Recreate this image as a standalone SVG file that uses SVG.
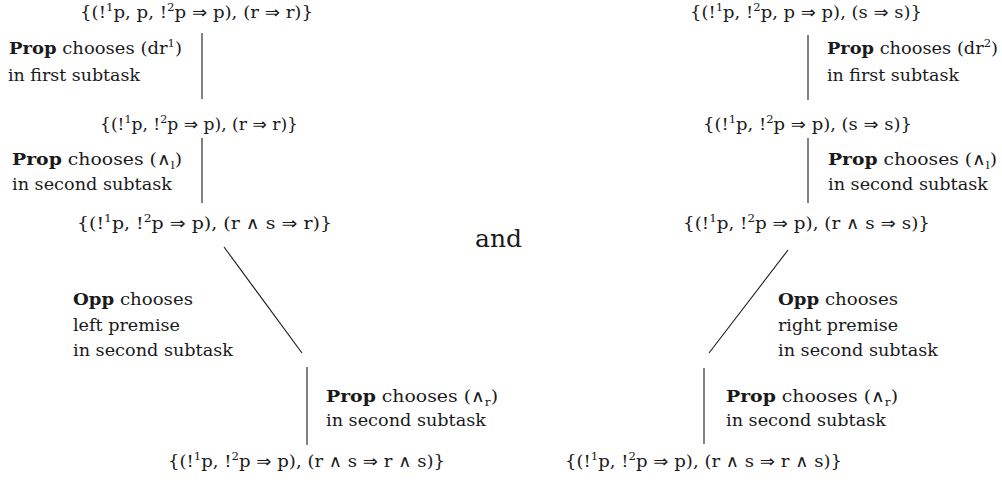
<svg xmlns="http://www.w3.org/2000/svg" width="1002" height="482" viewBox="0 0 1002 482">
<style>
text{font-family:"DejaVu Serif","Liberation Serif",serif;font-size:17px;fill:#1a1a1a}
.b{font-weight:bold}
.sup{font-size:11px}
.o{font-family:"DejaVu Sans",sans-serif;font-size:17px}
.and{font-size:24px}
.c line{stroke:#1a1a1a;stroke-width:1.1}
</style>
<rect width="1002" height="482" fill="#fff"/>
<g class="c" id="connectors">
<line x1="202" y1="33" x2="202" y2="99"/>
<line x1="202" y1="138" x2="202" y2="203"/>
<line x1="224" y1="247" x2="302" y2="353"/>
<line x1="307" y1="367" x2="307" y2="445"/>
<line x1="808" y1="35" x2="808" y2="100"/>
<line x1="808" y1="138" x2="808" y2="203"/>
<line x1="788" y1="250" x2="709" y2="353"/>
<line x1="704" y1="368" x2="704" y2="444"/>
</g>
<g id="L1"><text x="80" y="18" textLength="233" lengthAdjust="spacingAndGlyphs">{(!<tspan class="sup" dy="-7">1</tspan><tspan dy="7">p, p, !</tspan><tspan class="sup" dy="-7">2</tspan><tspan dy="7">p </tspan><tspan class="o">⇒</tspan> p), (r <tspan class="o">⇒</tspan> r)}</text></g>
<g id="L2"><text x="100" y="130" textLength="198" lengthAdjust="spacingAndGlyphs">{(!<tspan class="sup" dy="-7">1</tspan><tspan dy="7">p, !</tspan><tspan class="sup" dy="-7">2</tspan><tspan dy="7">p </tspan><tspan class="o">⇒</tspan> p), (r <tspan class="o">⇒</tspan> r)}</text></g>
<g id="L3"><text x="77" y="229" textLength="255" lengthAdjust="spacingAndGlyphs">{(!<tspan class="sup" dy="-7">1</tspan><tspan dy="7">p, !</tspan><tspan class="sup" dy="-7">2</tspan><tspan dy="7">p </tspan><tspan class="o">⇒</tspan> p), (r <tspan class="o">∧</tspan> s <tspan class="o">⇒</tspan> r)}</text></g>
<g id="L4"><text x="168" y="467" textLength="277" lengthAdjust="spacingAndGlyphs">{(!<tspan class="sup" dy="-7">1</tspan><tspan dy="7">p, !</tspan><tspan class="sup" dy="-7">2</tspan><tspan dy="7">p </tspan><tspan class="o">⇒</tspan> p), (r <tspan class="o">∧</tspan> s <tspan class="o">⇒</tspan> r <tspan class="o">∧</tspan> s)}</text></g>
<g id="R1"><text x="690" y="18" textLength="232" lengthAdjust="spacingAndGlyphs">{(!<tspan class="sup" dy="-7">1</tspan><tspan dy="7">p, !</tspan><tspan class="sup" dy="-7">2</tspan><tspan dy="7">p, p </tspan><tspan class="o">⇒</tspan> p), (s <tspan class="o">⇒</tspan> s)}</text></g>
<g id="R2"><text x="703" y="130" textLength="209" lengthAdjust="spacingAndGlyphs">{(!<tspan class="sup" dy="-7">1</tspan><tspan dy="7">p, !</tspan><tspan class="sup" dy="-7">2</tspan><tspan dy="7">p </tspan><tspan class="o">⇒</tspan> p), (s <tspan class="o">⇒</tspan> s)}</text></g>
<g id="R3"><text x="683" y="229" textLength="247" lengthAdjust="spacingAndGlyphs">{(!<tspan class="sup" dy="-7">1</tspan><tspan dy="7">p, !</tspan><tspan class="sup" dy="-7">2</tspan><tspan dy="7">p </tspan><tspan class="o">⇒</tspan> p), (r <tspan class="o">∧</tspan> s <tspan class="o">⇒</tspan> s)}</text></g>
<g id="R4"><text x="565" y="467" textLength="277" lengthAdjust="spacingAndGlyphs">{(!<tspan class="sup" dy="-7">1</tspan><tspan dy="7">p, !</tspan><tspan class="sup" dy="-7">2</tspan><tspan dy="7">p </tspan><tspan class="o">⇒</tspan> p), (r <tspan class="o">∧</tspan> s <tspan class="o">⇒</tspan> r <tspan class="o">∧</tspan> s)}</text></g>
<g id="labels-left">
<text x="9" y="54" textLength="173" lengthAdjust="spacingAndGlyphs"><tspan class="b">Prop</tspan> chooses (dr<tspan class="sup" dy="-7">1</tspan><tspan dy="7">)</tspan></text>
<text x="8" y="81" textLength="132" lengthAdjust="spacingAndGlyphs">in first subtask</text>
<text x="12" y="165" textLength="170" lengthAdjust="spacingAndGlyphs"><tspan class="b">Prop</tspan> chooses (<tspan class="o">∧</tspan><tspan class="sup" dy="4">l</tspan><tspan dy="-4">)</tspan></text>
<text x="12" y="190" textLength="160" lengthAdjust="spacingAndGlyphs">in second subtask</text>
<text x="73" y="305" textLength="120" lengthAdjust="spacingAndGlyphs"><tspan class="b">Opp</tspan> chooses</text>
<text x="73" y="331" textLength="107" lengthAdjust="spacingAndGlyphs">left premise</text>
<text x="73" y="356" textLength="160" lengthAdjust="spacingAndGlyphs">in second subtask</text>
<text x="326" y="402" textLength="172" lengthAdjust="spacingAndGlyphs"><tspan class="b">Prop</tspan> chooses (<tspan class="o">∧</tspan><tspan class="sup" dy="4">r</tspan><tspan dy="-4">)</tspan></text>
<text x="326" y="426" textLength="160" lengthAdjust="spacingAndGlyphs">in second subtask</text>
</g>
<g id="and"><text class="and" x="475" y="247" textLength="47" lengthAdjust="spacingAndGlyphs">and</text></g>
<g id="labels-right">
<text x="827" y="54" textLength="171" lengthAdjust="spacingAndGlyphs"><tspan class="b">Prop</tspan> chooses (dr<tspan class="sup" dy="-7">2</tspan><tspan dy="7">)</tspan></text>
<text x="827" y="81" textLength="132" lengthAdjust="spacingAndGlyphs">in first subtask</text>
<text x="828" y="165" textLength="169" lengthAdjust="spacingAndGlyphs"><tspan class="b">Prop</tspan> chooses (<tspan class="o">∧</tspan><tspan class="sup" dy="4">l</tspan><tspan dy="-4">)</tspan></text>
<text x="828" y="190" textLength="160" lengthAdjust="spacingAndGlyphs">in second subtask</text>
<text x="778" y="305" textLength="120" lengthAdjust="spacingAndGlyphs"><tspan class="b">Opp</tspan> chooses</text>
<text x="778" y="331" textLength="120" lengthAdjust="spacingAndGlyphs">right premise</text>
<text x="778" y="356" textLength="160" lengthAdjust="spacingAndGlyphs">in second subtask</text>
<text x="726" y="402" textLength="172" lengthAdjust="spacingAndGlyphs"><tspan class="b">Prop</tspan> chooses (<tspan class="o">∧</tspan><tspan class="sup" dy="4">r</tspan><tspan dy="-4">)</tspan></text>
<text x="726" y="426" textLength="160" lengthAdjust="spacingAndGlyphs">in second subtask</text>
</g>
</svg>
